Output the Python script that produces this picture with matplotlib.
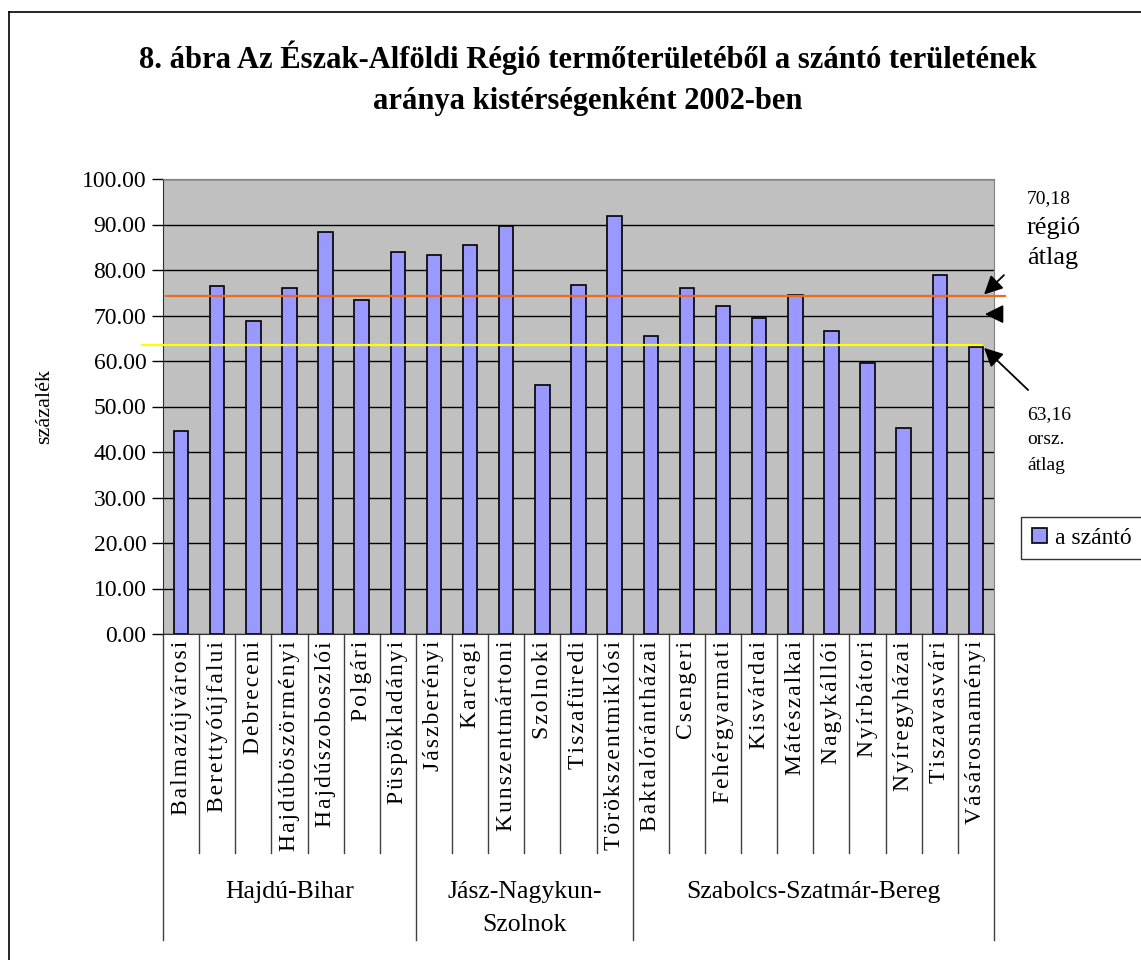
import matplotlib
matplotlib.use('Agg')
import matplotlib.pyplot as plt
from matplotlib.lines import Line2D
import matplotlib.transforms as mtransforms

plt.rcParams['font.family'] = ['Liberation Serif', 'DejaVu Serif']

# data
kisterseg = ['Balmazújvárosi', 'Berettyóújfalui', 'Debreceni', 'Hajdúböszörményi',
             'Hajdúszoboszlói', 'Polgári', 'Püspökladányi',
             'Jászberényi', 'Karcagi', 'Kunszentmártoni', 'Szolnoki', 'Tiszafüredi',
             'Törökszentmiklósi',
             'Baktalórántházai', 'Csengeri', 'Fehérgyarmati', 'Kisvárdai', 'Mátészalkai',
             'Nagykállói', 'Nyírbátori', 'Nyíregyházai', 'Tiszavasvári', 'Vásárosnaményi']
szanto = [44.7, 76.4, 68.9, 76.0, 88.3, 73.3, 83.9,
          83.4, 85.6, 89.6, 54.8, 76.8, 91.8,
          65.4, 76.0, 72.0, 69.4, 74.6, 66.7, 59.6, 45.2, 79.0, 63.1]
megyek = ['Hajdú-Bihar', 'Jász-Nagykun-\nSzolnok', 'Szabolcs-Szatmár-Bereg']
megye_db = [7, 6, 10]
regio_vonal = 74.2   # orange line as drawn
orsz_vonal = 63.6    # yellow line as drawn
yticks = [0, 10, 20, 30, 40, 50, 60, 70, 80, 90, 100]


def ritkit(s):
    # wide letter spacing like the original
    return '\u200a'.join(s)


W, H = 1141, 960
fig = plt.figure(figsize=(W / 100, H / 100), dpi=100)
ax = fig.add_axes([163 / W, 1 - 634 / H, 831 / W, 455 / H])

x = list(range(len(szanto)))
ax.bar(x, szanto, width=0.4, color='#9999FF', edgecolor='black', linewidth=1.2, zorder=3,
       label='a szántó')
ax.set_facecolor('#C0C0C0')
ax.set_xlim(-0.5, len(szanto) - 0.5)
ax.set_ylim(0, 100)
ax.set_yticks(yticks)
ax.set_yticklabels(['%.2f' % v for v in yticks], fontsize=17)
ax.yaxis.grid(True, color='black', linewidth=1, zorder=1)
ax.set_axisbelow(True)
ax.tick_params(axis='y', length=8, width=1, direction='out', pad=4)
for s in ['top', 'right']:
    ax.spines[s].set_color('#808080')
ax.spines['left'].set_color('#303030')
ax.spines['bottom'].set_color('#303030')
ax.set_ylabel('százalék', fontsize=16, labelpad=20)

ax.set_xticks(x)
ax.set_xticklabels([ritkit(k) for k in kisterseg], rotation=90, fontsize=17, va='top')
ax.tick_params(axis='x', length=0, pad=5)

# grouped category axis lines
trans = mtransforms.blended_transform_factory(ax.transData, ax.transAxes)
short = (634 - 853) / 455
longl = (634 - 940) / 455
bounds = [-0.5]
for n in megye_db:
    bounds.append(bounds[-1] + n)
for i in range(len(szanto) + 1):
    b = i - 0.5
    y2 = longl if b in bounds else short
    ax.plot([b, b], [0, y2], transform=trans, color='#404040', lw=1, clip_on=False)
start = -0.5
for name, n in zip(megyek, megye_db):
    c = start + n / 2
    for k, t in enumerate(name.split('\n')):
        ax.text(c, (634 - 892 - 33 * k) / 455, t, transform=trans, ha='center', va='center',
                fontsize=18.5)
    start += n

# average lines
ax.plot([-0.42, 22.8], [regio_vonal, regio_vonal], color='#F06A1E', lw=1.6, zorder=4, clip_on=False)
ax.plot([-1.08, 22.17], [orsz_vonal, orsz_vonal], color='#FFFF00', lw=1.6, zorder=4, clip_on=False)

# arrows
ap = dict(arrowstyle='-|>', mutation_scale=28, color='black', lw=1.3)
ax.annotate('', xy=(22.17, regio_vonal), xytext=(22.83, 79.3), arrowprops=ap,
            annotation_clip=False, zorder=6)
ax.annotate('', xy=(22.17, 70.3), xytext=(22.8, 70.3), arrowprops=ap,
            annotation_clip=False, zorder=6)
ax.annotate('', xy=(22.17, orsz_vonal - 0.3), xytext=(23.5, 53.2), arrowprops=ap,
            annotation_clip=False, zorder=6)

fig.text(1027 / W, 1 - 199 / H, '70,18', fontsize=14, va='center')
fig.text(1027 / W, 1 - 228 / H, 'régió', fontsize=19, va='center')
fig.text(1027 / W, 1 - 258 / H, 'átlag', fontsize=19, va='center')
fig.text(1027 / W, 1 - 415 / H, '63,16', fontsize=14, va='center')
fig.text(1027 / W, 1 - 440 / H, 'orsz.', fontsize=14, va='center')
fig.text(1027 / W, 1 - 465 / H, 'átlag', fontsize=14, va='center')

fig.text(588 / W, 1 - 58 / H, '8. ábra Az Észak-Alföldi Régió termőterületéből a szántó területének',
         fontsize=22, fontweight='bold', ha='center', va='center')
fig.text(588 / W, 1 - 101 / H, 'aránya kistérségenként 2002-ben',
         fontsize=22, fontweight='bold', ha='center', va='center')

leg = ax.legend(loc='upper left', bbox_to_anchor=(1021 / W, 1 - 517 / H),
                bbox_transform=fig.transFigure, fontsize=17, frameon=True, fancybox=False,
                handlelength=0.65, handleheight=0.65, handletextpad=0.35, borderpad=0.45,
                borderaxespad=0)
leg.get_frame().set_edgecolor('black')
leg.get_frame().set_linewidth(1)

# outer chart frame (left and top edges visible)
fig.add_artist(Line2D([9 / W, 9 / W], [0, 1 - 12 / H], transform=fig.transFigure, color='black', lw=1.2))
fig.add_artist(Line2D([9 / W, 1], [1 - 12 / H, 1 - 12 / H], transform=fig.transFigure, color='black', lw=1.2))

fig.savefig('out.png', dpi=100)
